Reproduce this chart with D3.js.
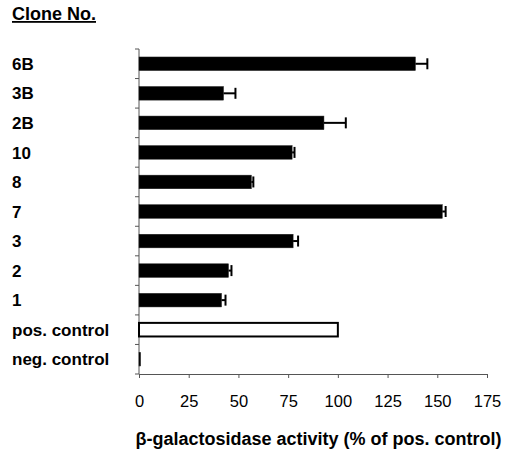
<!DOCTYPE html>
<html>
<head>
<meta charset="utf-8">
<script src="https://cdn.jsdelivr.net/npm/d3@7"></script>
<style>
  html, body { margin: 0; padding: 0; background: #fff; }
  svg { display: block; }
  text { font-family: "Liberation Sans", Arial, sans-serif; }
</style>
</head>
<body>
<svg id="chart" width="505" height="451"></svg>
<script>
const categories = ["6B", "3B", "2B", "10", "8", "7", "3", "2", "1", "pos. control", "neg. control"];
const values = [139, 42.5, 93, 77, 56.5, 152.5, 77.5, 45, 41.5, 100, 0.8];
const errors = [6, 6, 11, 1.2, 1, 1.7, 2.5, 1.5, 2, 0, 0];
const outlined = [false, false, false, false, false, false, false, false, false, true, false];
const xTicks = [0, 25, 50, 75, 100, 125, 150, 175];
const title = "Clone No.";
const xTitle = "β-galactosidase activity (% of pos. control)";

(function () {
const svg = d3.select("#chart");
const mLeft = 139, mRight = 487, mTop = 49, mBottom = 374;

const x = d3.scaleLinear().domain([0, 175]).range([mLeft, mRight]);
const yBand = d3.scaleBand().domain(categories).range([mTop, mBottom]).padding(0);
const yBar = d3.scaleBand().domain(categories).range([mTop, mBottom]).paddingInner(0.54).paddingOuter(0.27);

const axisColor = "#555";

// title
svg.append("text").attr("x", 12).attr("y", 20)
  .attr("font-size", 18).attr("font-weight", "bold")
  .attr("text-decoration", "underline").text(title);

// y axis line and ticks
svg.append("line").attr("x1", mLeft).attr("x2", mLeft).attr("y1", mTop).attr("y2", mBottom)
  .attr("stroke", axisColor).attr("stroke-width", 1);
const yTickPos = categories.map(c => yBand(c)).concat([mBottom]);
svg.selectAll(".ytick").data(yTickPos).join("line")
  .attr("x1", mLeft - 4).attr("x2", mLeft)
  .attr("y1", d => d).attr("y2", d => d)
  .attr("stroke", axisColor).attr("stroke-width", 1);

// x axis
const xAxis = d3.axisBottom(x).tickValues(xTicks).tickSize(4).tickPadding(17).tickSizeOuter(0);
const gx = svg.append("g").attr("transform", `translate(0,${mBottom})`).call(xAxis);
gx.select(".domain").attr("stroke", axisColor);
gx.selectAll(".tick line").attr("stroke", axisColor);
gx.selectAll(".tick text").attr("font-size", 16.5).attr("fill", "#000")
  .attr("font-family", "Liberation Sans, Arial, sans-serif");

// category labels
svg.selectAll(".ylab").data(categories).join("text")
  .attr("x", 12)
  .attr("y", d => yBand(d) + yBand.bandwidth() / 2)
  .attr("dy", "0.36em")
  .attr("font-size", 17).attr("font-weight", "bold")
  .text(d => d);

// bars
svg.selectAll(".bar").data(categories).join("rect")
  .attr("x", x(0))
  .attr("y", d => yBar(d))
  .attr("width", (d, i) => Math.max(1, x(values[i]) - x(0)))
  .attr("height", yBar.bandwidth())
  .attr("fill", (d, i) => outlined[i] ? "#fff" : "#000")
  .attr("stroke", (d, i) => outlined[i] ? "#000" : "#222")
  .attr("stroke-width", (d, i) => outlined[i] ? 2 : 0.5);

// error bars
const eb = categories.map((c, i) => ({ c, v: values[i], e: errors[i] })).filter(d => d.e > 0);
svg.selectAll(".eline").data(eb).join("line")
  .attr("x1", d => x(d.v)).attr("x2", d => x(d.v + d.e))
  .attr("y1", d => yBand(d.c) + yBand.bandwidth() / 2)
  .attr("y2", d => yBand(d.c) + yBand.bandwidth() / 2)
  .attr("stroke", "#000").attr("stroke-width", 2);
svg.selectAll(".ecap").data(eb).join("line")
  .attr("x1", d => x(d.v + d.e)).attr("x2", d => x(d.v + d.e))
  .attr("y1", d => yBand(d.c) + yBand.bandwidth() / 2 - 5.5)
  .attr("y2", d => yBand(d.c) + yBand.bandwidth() / 2 + 5.5)
  .attr("stroke", "#000").attr("stroke-width", 2);

// x title
svg.append("text").attr("x", (135 + 502) / 2).attr("y", 445)
  .attr("text-anchor", "middle")
  .attr("font-size", 18).attr("font-weight", "bold")
  .text(xTitle);
})();
</script>
</body>
</html>
